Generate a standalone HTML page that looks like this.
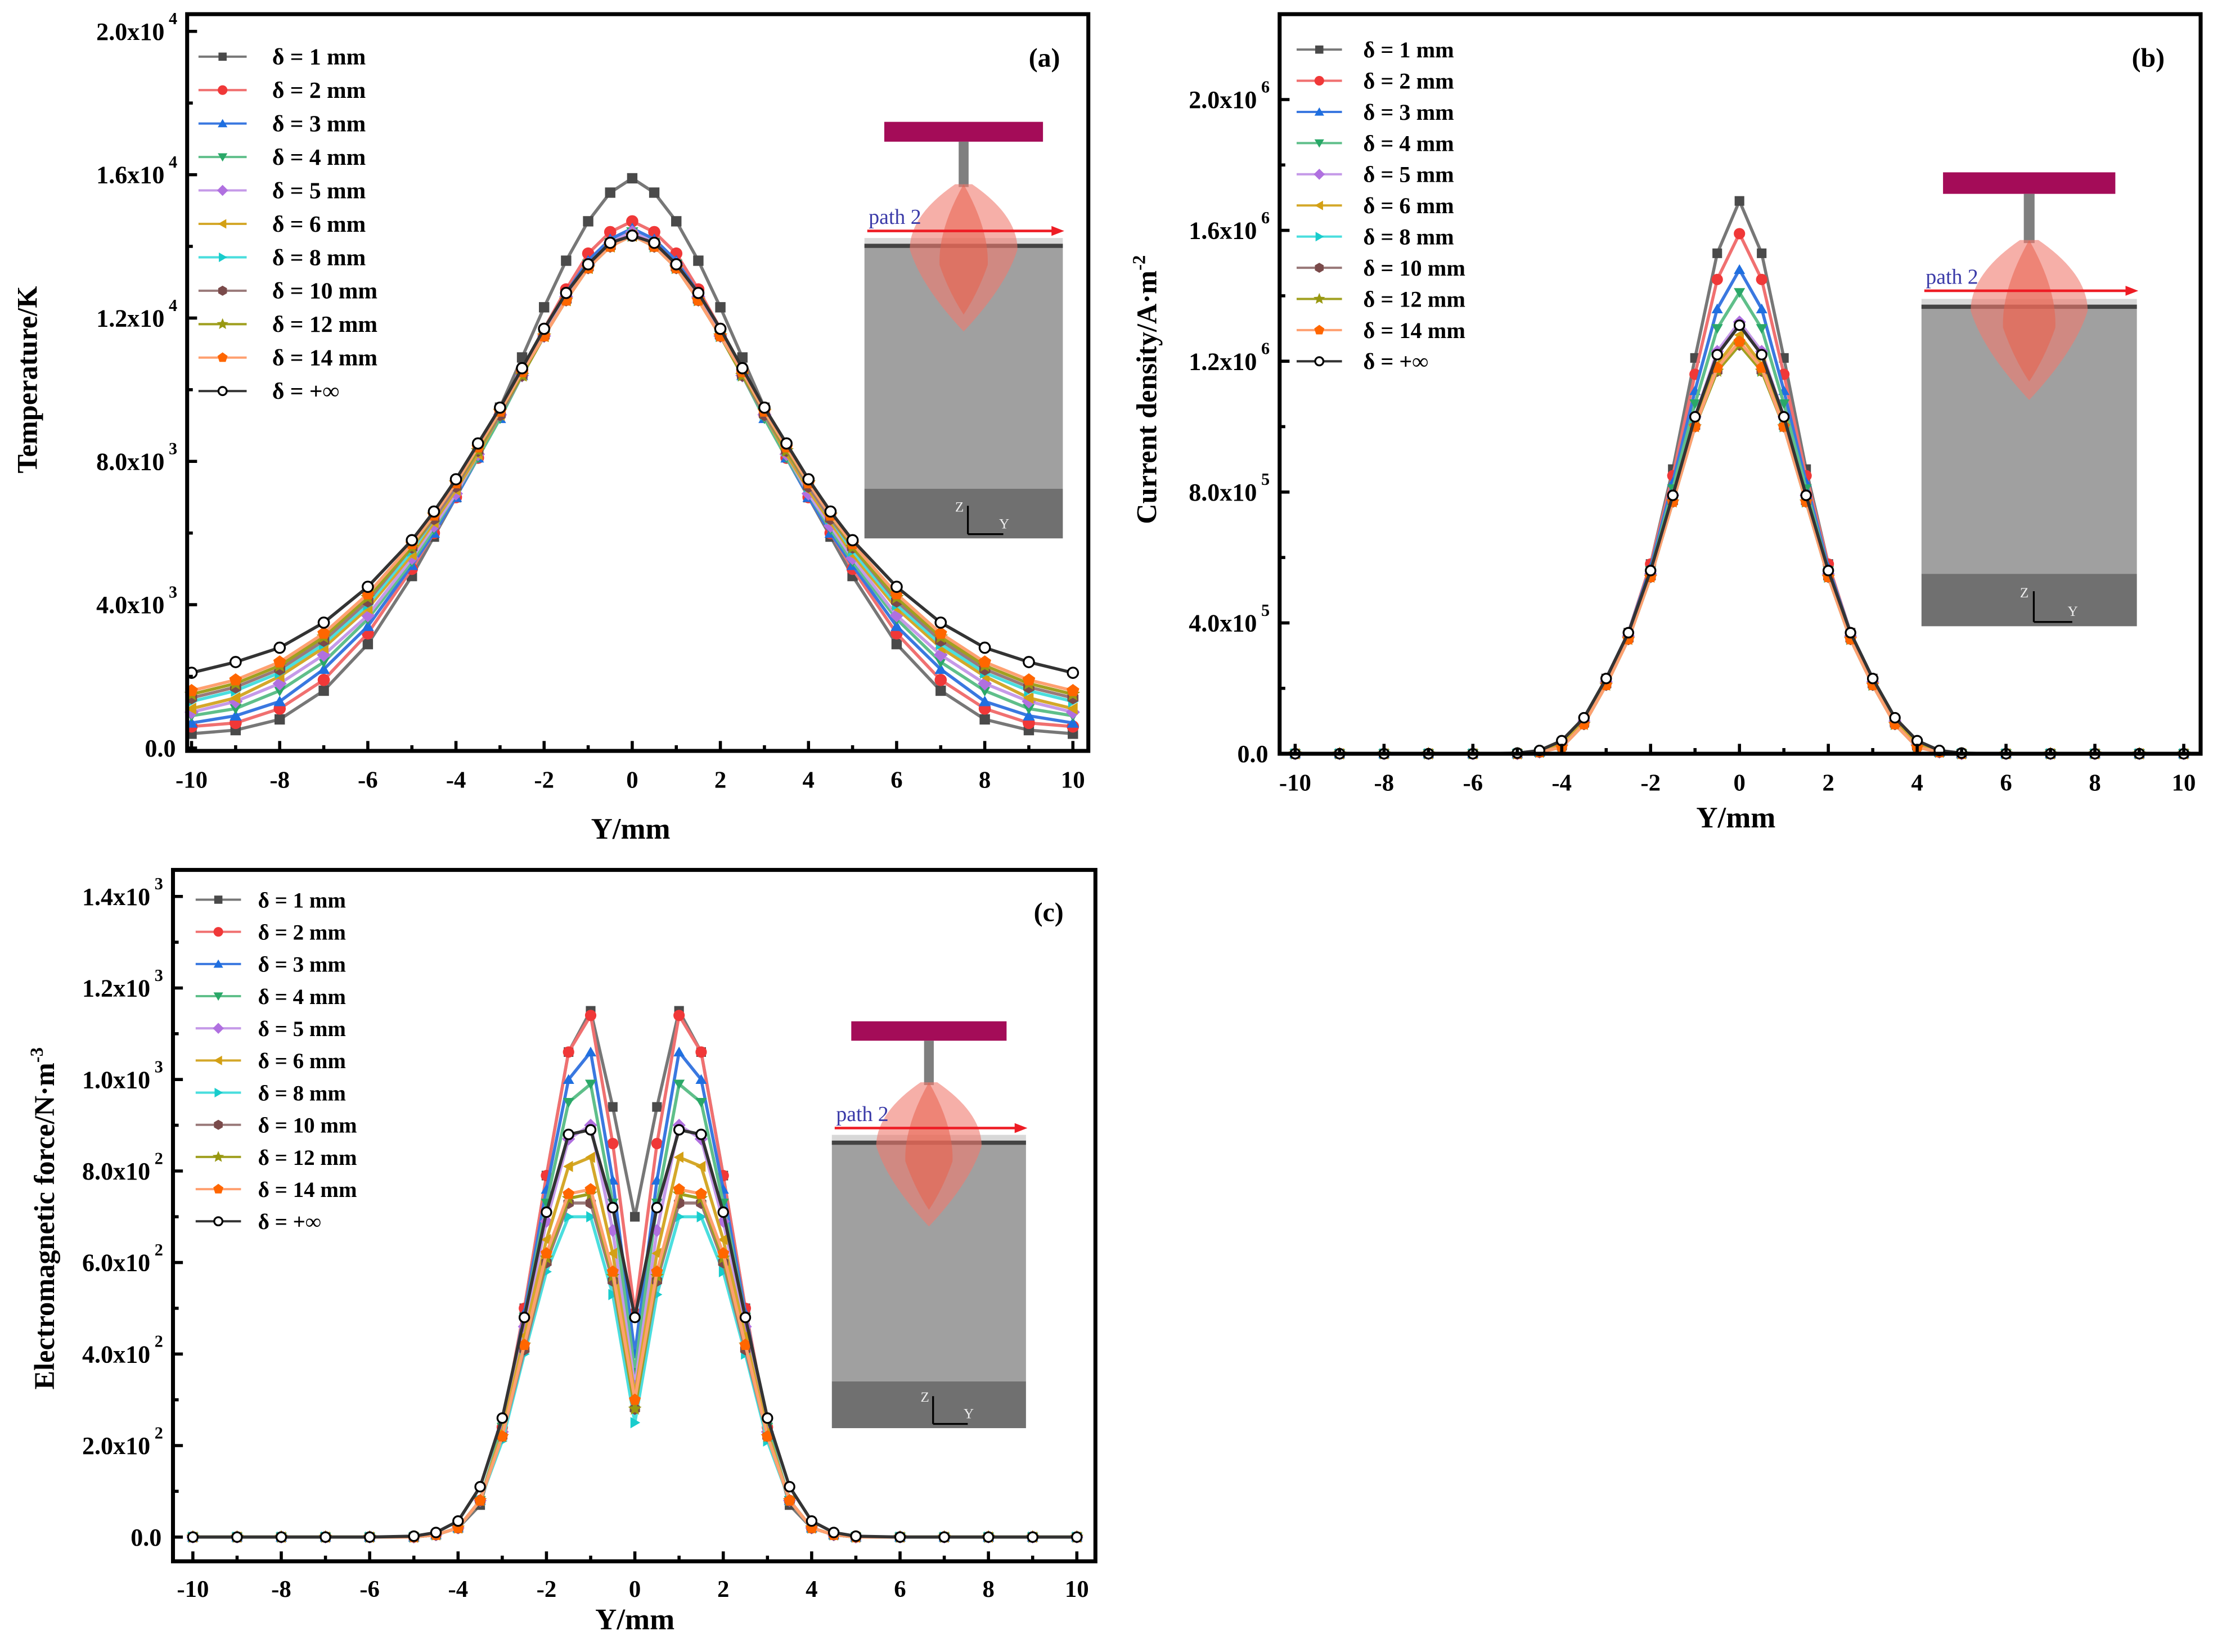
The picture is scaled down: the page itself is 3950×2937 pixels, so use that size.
<!DOCTYPE html>
<html><head><meta charset="utf-8">
<style>
html,body{margin:0;padding:0;background:#fff;}
svg{display:block;}
text{font-family:"Liberation Serif",serif;}
</style></head>
<body>
<svg id="fig" xmlns="http://www.w3.org/2000/svg" width="3950" height="2937" viewBox="0 0 1568 1166">
<rect x="0" y="0" width="1568" height="1166" fill="#fff"/>
</svg>
<script>
// ---------- data ----------
const categories = [-10,-9,-8,-7,-6,-5,-4.5,-4,-3.5,-3,-2.5,-2,-1.5,-1,-0.5,0,0.5,1,1.5,2,2.5,3,3.5,4,4.5,5,6,7,8,9,10];
const seriesLabels = ["δ = 1 mm","δ = 2 mm","δ = 3 mm","δ = 4 mm","δ = 5 mm","δ = 6 mm","δ = 8 mm","δ = 10 mm","δ = 12 mm","δ = 14 mm","δ = +∞"];
// Panel (a) Temperature, units 1e3 K
const tempD1 =  [0.4,0.5,0.8,1.6,2.9,4.8,5.9,7.0,8.2,9.5,10.9,12.3,13.6,14.7,15.5,15.9,15.5,14.7,13.6,12.3,10.9,9.5,8.2,7.0,5.9,4.8,2.9,1.6,0.8,0.5,0.4];
const tempD2 =  [0.6,0.7,1.1,1.9,3.2,5.0,6.0,7.0,8.1,9.3,10.5,11.7,12.8,13.8,14.4,14.7,14.4,13.8,12.8,11.7,10.5,9.3,8.1,7.0,6.0,5.0,3.2,1.9,1.1,0.7,0.6];
const tempD3 =  [0.7,0.9,1.3,2.2,3.4,5.1,6.0,7.0,8.1,9.2,10.4,11.6,12.7,13.6,14.2,14.5,14.2,13.6,12.7,11.6,10.4,9.2,8.1,7.0,6.0,5.1,3.4,2.2,1.3,0.9,0.7];
const tempD4 =  [0.9,1.1,1.6,2.4,3.6,5.2,6.1,7.1,8.1,9.2,10.4,11.5,12.6,13.5,14.1,14.4,14.1,13.5,12.6,11.5,10.4,9.2,8.1,7.1,6.1,5.2,3.6,2.4,1.6,1.1,0.9];
const tempD5 =  [1.0,1.3,1.8,2.6,3.7,5.3,6.2,7.1,8.2,9.3,10.4,11.5,12.6,13.5,14.1,14.4,14.1,13.5,12.6,11.5,10.4,9.3,8.2,7.1,6.2,5.3,3.7,2.6,1.8,1.3,1.0];
const tempD6 =  [1.1,1.4,2.0,2.8,3.9,5.4,6.3,7.2,8.2,9.3,10.4,11.5,12.5,13.4,14.0,14.3,14.0,13.4,12.5,11.5,10.4,9.3,8.2,7.2,6.3,5.4,3.9,2.8,2.0,1.4,1.1];
const tempD8 =  [1.3,1.6,2.1,2.9,4.0,5.5,6.4,7.3,8.3,9.3,10.4,11.5,12.5,13.4,14.0,14.3,14.0,13.4,12.5,11.5,10.4,9.3,8.3,7.3,6.4,5.5,4.0,2.9,2.1,1.6,1.3];
const tempD10 = [1.4,1.7,2.2,3.0,4.1,5.6,6.4,7.3,8.3,9.3,10.4,11.5,12.5,13.4,14.0,14.3,14.0,13.4,12.5,11.5,10.4,9.3,8.3,7.3,6.4,5.6,4.1,3.0,2.2,1.7,1.4];
const tempD12 = [1.5,1.8,2.3,3.1,4.2,5.6,6.5,7.4,8.3,9.4,10.4,11.5,12.5,13.4,14.0,14.3,14.0,13.4,12.5,11.5,10.4,9.4,8.3,7.4,6.5,5.6,4.2,3.1,2.3,1.8,1.5];
const tempD14 = [1.6,1.9,2.4,3.2,4.3,5.7,6.5,7.4,8.4,9.4,10.5,11.5,12.5,13.4,14.0,14.3,14.0,13.4,12.5,11.5,10.5,9.4,8.4,7.4,6.5,5.7,4.3,3.2,2.4,1.9,1.6];
const tempInf = [2.1,2.4,2.8,3.5,4.5,5.8,6.6,7.5,8.5,9.5,10.6,11.7,12.7,13.5,14.1,14.3,14.1,13.5,12.7,11.7,10.6,9.5,8.5,7.5,6.6,5.8,4.5,3.5,2.8,2.4,2.1];
// Panel (b) Current density, units 1e5 A/m2
const curD1 =  [0,0,0,0,0,0,0.05,0.3,1.0,2.3,3.7,5.8,8.7,12.1,15.3,16.9,15.3,12.1,8.7,5.8,3.7,2.3,1.0,0.3,0.05,0,0,0,0,0,0];
const curD2 =  [0,0,0,0,0,0,0.05,0.3,1.0,2.3,3.7,5.8,8.5,11.6,14.5,15.9,14.5,11.6,8.5,5.8,3.7,2.3,1.0,0.3,0.05,0,0,0,0,0,0];
const curD3 =  [0,0,0,0,0,0,0.05,0.3,1.0,2.3,3.7,5.7,8.3,11.1,13.6,14.8,13.6,11.1,8.3,5.7,3.7,2.3,1.0,0.3,0.05,0,0,0,0,0,0];
const curD4 =  [0,0,0,0,0,0,0.05,0.3,1.0,2.2,3.6,5.6,8.1,10.7,13.0,14.1,13.0,10.7,8.1,5.6,3.6,2.2,1.0,0.3,0.05,0,0,0,0,0,0];
const curD5 =  [0,0,0,0,0,0,0.05,0.3,1.0,2.2,3.6,5.5,7.9,10.3,12.3,13.2,12.3,10.3,7.9,5.5,3.6,2.2,1.0,0.3,0.05,0,0,0,0,0,0];
const curD6 =  [0,0,0,0,0,0,0.05,0.3,1.0,2.2,3.6,5.5,7.8,10.1,11.9,12.8,11.9,10.1,7.8,5.5,3.6,2.2,1.0,0.3,0.05,0,0,0,0,0,0];
const curD8 =  [0,0,0,0,0,0,0.05,0.2,0.9,2.1,3.5,5.4,7.7,10.0,11.7,12.5,11.7,10.0,7.7,5.4,3.5,2.1,0.9,0.2,0.05,0,0,0,0,0,0];
const curD10 = [0,0,0,0,0,0,0.05,0.2,0.9,2.1,3.5,5.4,7.7,10.0,11.7,12.5,11.7,10.0,7.7,5.4,3.5,2.1,0.9,0.2,0.05,0,0,0,0,0,0];
const curD12 = [0,0,0,0,0,0,0.05,0.2,0.9,2.1,3.5,5.4,7.7,10.0,11.7,12.5,11.7,10.0,7.7,5.4,3.5,2.1,0.9,0.2,0.05,0,0,0,0,0,0];
const curD14 = [0,0,0,0,0,0,0.05,0.2,0.9,2.1,3.5,5.4,7.7,10.0,11.8,12.6,11.8,10.0,7.7,5.4,3.5,2.1,0.9,0.2,0.05,0,0,0,0,0,0];
const curInf = [0,0,0,0,0,0.02,0.1,0.4,1.1,2.3,3.7,5.6,7.9,10.3,12.2,13.1,12.2,10.3,7.9,5.6,3.7,2.3,1.1,0.4,0.1,0.02,0,0,0,0,0];
// Panel (c) Electromagnetic force, units 1e2 N/m3
const emfD1 =  [0,0,0,0,0,0,0.05,0.2,0.7,2.4,5.0,7.9,10.6,11.5,9.4,7.0,9.4,11.5,10.6,7.9,5.0,2.4,0.7,0.2,0.05,0,0,0,0,0,0];
const emfD2 =  [0,0,0,0,0,0,0.05,0.2,0.8,2.4,5.0,7.9,10.6,11.4,8.6,4.9,8.6,11.4,10.6,7.9,5.0,2.4,0.8,0.2,0.05,0,0,0,0,0,0];
const emfD3 =  [0,0,0,0,0,0,0.05,0.2,0.8,2.4,4.9,7.6,10.0,10.6,7.8,4.0,7.8,10.6,10.0,7.6,4.9,2.4,0.8,0.2,0.05,0,0,0,0,0,0];
const emfD4 =  [0,0,0,0,0,0,0.05,0.2,0.8,2.4,4.8,7.3,9.5,9.9,7.3,3.6,7.3,9.9,9.5,7.3,4.8,2.4,0.8,0.2,0.05,0,0,0,0,0,0];
const emfD5 =  [0,0,0,0,0,0,0.05,0.2,0.8,2.3,4.6,6.9,8.7,9.0,6.7,3.3,6.7,9.0,8.7,6.9,4.6,2.3,0.8,0.2,0.05,0,0,0,0,0,0];
const emfD6 =  [0,0,0,0,0,0,0.05,0.2,0.8,2.3,4.4,6.5,8.1,8.3,6.2,3.1,6.2,8.3,8.1,6.5,4.4,2.3,0.8,0.2,0.05,0,0,0,0,0,0];
const emfD8 =  [0,0,0,0,0,0,0.05,0.2,0.8,2.1,4.0,5.8,7.0,7.0,5.3,2.5,5.3,7.0,7.0,5.8,4.0,2.1,0.8,0.2,0.05,0,0,0,0,0,0];
const emfD10 = [0,0,0,0,0,0,0.05,0.2,0.8,2.2,4.1,6.0,7.3,7.3,5.6,2.8,5.6,7.3,7.3,6.0,4.1,2.2,0.8,0.2,0.05,0,0,0,0,0,0];
const emfD12 = [0,0,0,0,0,0,0.05,0.2,0.8,2.2,4.2,6.1,7.4,7.5,5.7,2.8,5.7,7.5,7.4,6.1,4.2,2.2,0.8,0.2,0.05,0,0,0,0,0,0];
const emfD14 = [0,0,0,0,0,0,0.05,0.2,0.8,2.2,4.2,6.2,7.5,7.6,5.8,3.0,5.8,7.6,7.5,6.2,4.2,2.2,0.8,0.2,0.05,0,0,0,0,0,0];
const emfInf = [0,0,0,0,0,0.02,0.1,0.35,1.1,2.6,4.8,7.1,8.8,8.9,7.2,4.8,7.2,8.9,8.8,7.1,4.8,2.6,1.1,0.35,0.1,0.02,0,0,0,0,0];
// tick labels
const xTicks = [-10,-8,-6,-4,-2,0,2,4,6,8,10];
const tempTicks = [0,4,8,12,16,20];
const tempTickLabels = [["0.0",""],["4.0x10","3"],["8.0x10","3"],["1.2x10","4"],["1.6x10","4"],["2.0x10","4"]];
const curTicks = [0,4,8,12,16,20];
const curTickLabels = [["0.0",""],["4.0x10","5"],["8.0x10","5"],["1.2x10","6"],["1.6x10","6"],["2.0x10","6"]];
const emfTicks = [0,2,4,6,8,10,12,14];
const emfTickLabels = [["0.0",""],["2.0x10","2"],["4.0x10","2"],["6.0x10","2"],["8.0x10","2"],["1.0x10","3"],["1.2x10","3"],["1.4x10","3"]];

// ---------- styling ----------
const NS = "http://www.w3.org/2000/svg";
const svg = document.getElementById('fig');
const markerColors = ["#4a4a4a","#f03838","#1f6fe0","#2aa868","#b070e0","#d4a014","#18cccc","#7a4a4a","#989810","#ff6600","#000"];
const lineColors = ["#777","#f07070","#3a78e0","#5fbf8a","#c59ae8","#d4a82a","#4adede","#9a7a7a","#a0a020","#ffa070","#333"];
const markerShapes = ["square","circle","up","down","diamond","left","right","hex","star","pent","open"];
const slugs = ["d1","d2","d3","d4","d5","d6","d8","d10","d12","d14","dinf"];

function el(tag, attrs, parent){
  const e = document.createElementNS(NS, tag);
  for (const k in attrs) e.setAttribute(k, attrs[k]);
  (parent||svg).appendChild(e);
  return e;
}
function poly(cx,cy,r,n,rot){
  const p=[];
  for(let i=0;i<n;i++){const a=rot+i*2*Math.PI/n;p.push((cx+r*Math.cos(a)).toFixed(2)+","+(cy+r*Math.sin(a)).toFixed(2));}
  return p.join(" ");
}
function starPts(cx,cy,r){
  const p=[];
  for(let i=0;i<10;i++){const a=-Math.PI/2+i*Math.PI/5;const rr=i%2?r*0.45:r;p.push((cx+rr*Math.cos(a)).toFixed(2)+","+(cy+rr*Math.sin(a)).toFixed(2));}
  return p.join(" ");
}
function drawMarker(g, shape, cx, cy, s, color){
  let m;
  if(shape==="square") m = el('rect',{x:cx-s*0.85,y:cy-s*0.85,width:s*1.7,height:s*1.7,fill:color},g);
  else if(shape==="circle") m = el('circle',{cx:cx,cy:cy,r:s,fill:color},g);
  else if(shape==="up") m = el('polygon',{points:poly(cx,cy+s*0.2,s*1.15,3,-Math.PI/2),fill:color},g);
  else if(shape==="down") m = el('polygon',{points:poly(cx,cy-s*0.2,s*1.15,3,Math.PI/2),fill:color},g);
  else if(shape==="diamond") m = el('polygon',{points:poly(cx,cy,s*1.15,4,0),fill:color},g);
  else if(shape==="left") m = el('polygon',{points:poly(cx+s*0.2,cy,s*1.15,3,Math.PI),fill:color},g);
  else if(shape==="right") m = el('polygon',{points:poly(cx-s*0.2,cy,s*1.15,3,0),fill:color},g);
  else if(shape==="hex") m = el('polygon',{points:poly(cx,cy,s*1.05,6,Math.PI/6),fill:color},g);
  else if(shape==="star") m = el('polygon',{points:starPts(cx,cy,s*1.25),fill:color},g);
  else if(shape==="pent") m = el('polygon',{points:poly(cx,cy,s*1.1,5,-Math.PI/2),fill:color},g);
  else m = el('circle',{cx:cx,cy:cy,r:s*0.85,fill:"#fff",stroke:"#000","stroke-width":1.3},g);
  return m;
}

function drawPanel(cfg){
  const P = el('g',{});
  
  
  const {left,right,top,bottom,xmin,xmax,ymin,ymax} = cfg;
  const sx = v => left + (v - xmin)/(xmax - xmin)*(right-left);
  const sy = v => bottom - (v - ymin)/(ymax - ymin)*(bottom-top);

  drawInset(P, cfg.inset);

  cfg.series.forEach((vals, si) => {
    const g = el('g',{},P);
    
    
    const pts = categories.map((c,i)=> sx(c).toFixed(2)+","+sy(vals[i]).toFixed(2)).join(" ");
    const ln = el('polyline',{points:pts,fill:"none",stroke:lineColors[si],"stroke-width":2.2,"stroke-linejoin":"round"},g);
    
    
    categories.forEach((c,i)=>{
      const mk = drawMarker(g, markerShapes[si], sx(c), sy(vals[i]), cfg.ms, markerColors[si]);
      
      
    });
  });

  const fr = el('rect',{x:left,y:top,width:right-left,height:bottom-top,fill:"none",stroke:"#000","stroke-width":2.8},P);
  
  

  const xg = el('g',{},P);
  
  
  for(let v=-10; v<=10; v++){
    const major = (v%2===0);
    el('line',{x1:sx(v),x2:sx(v),y1:bottom,y2:bottom-(major?7:4),stroke:"#000","stroke-width":2.2},xg);
  }
  xTicks.forEach(v=>{
    const t = el('text',{x:sx(v),y:bottom+cfg.xlabOff,"text-anchor":"middle","font-size":17,"font-weight":"bold"},xg);
    t.textContent = String(v);
    
    
  });
  const yg = el('g',{},P);
  
  
  cfg.yTicks.forEach((v,i)=>{
    el('line',{x1:left,x2:left+7,y1:sy(v),y2:sy(v),stroke:"#000","stroke-width":2.2},yg);
    if(i < cfg.yTicks.length-1){
      const mid=(v+cfg.yTicks[i+1])/2;
      el('line',{x1:left,x2:left+4,y1:sy(mid),y2:sy(mid),stroke:"#000","stroke-width":2.2},yg);
    }
    const lab = cfg.yLabels[i];
    const t = el('text',{x:left-8-(lab[1]?8:0),y:sy(v)+6,"text-anchor":"end","font-size":17.5,"font-weight":"bold"},yg);
    t.textContent = lab[0];
    
    
    if(lab[1]){
      const sp = el('text',{x:left-7,y:sy(v)-5,"text-anchor":"end","font-size":12,"font-weight":"bold"},yg);
      sp.textContent = lab[1];
      
      
    }
  });
  const xt = el('text',{x:cfg.xTitle[0],y:cfg.xTitle[1],"text-anchor":"middle","font-size":21,"font-weight":"bold"},P);
  xt.textContent = "Y/mm";
  
  
  const yt = el('text',{x:0,y:0,"text-anchor":"middle","font-size":20,"font-weight":"bold",transform:`translate(${cfg.yTitle[0]},${cfg.yTitle[1]}) rotate(-90)`},P);
  
  
  yt.appendChild(document.createTextNode(cfg.yTitleText));
  if(cfg.yTitleSup){
    const ts = el('tspan',{"font-size":13,dy:-8},yt);
    ts.textContent = cfg.yTitleSup;
  }
  const tag = el('text',{x:cfg.tag[0],y:cfg.tag[1],"text-anchor":"middle","font-size":19,"font-weight":"bold"},P);
  tag.textContent = cfg.tagText;
  
  

  const lg = el('g',{},P);
  
  
  const L = cfg.legend;
  seriesLabels.forEach((lab, si)=>{
    const y = L.y0 + si*L.dy;
    const eg = el('g',{},lg);
    
    
    el('line',{x1:L.x0,x2:L.x0+L.w,y1:y,y2:y,stroke:lineColors[si],"stroke-width":1.6},eg);
    drawMarker(eg, markerShapes[si], L.x0+L.w/2, y, 3.4, markerColors[si]);
    const t = el('text',{x:L.tx,y:y+5.5,"font-size":L.fs,"font-weight":"bold"},eg);
    t.textContent = lab;
  });
}

function drawInset(P, I){
  const g = el('g',{},P);
  
  
  const {x0,W,T,Hl,Hd} = I;
  const s = W/140, cx = x0 + W/2;
  const bar = el('rect',{x:cx-56*s,y:T-86*s,width:112*s,height:14*s,fill:"#a40c58"},g);
  
  
  el('rect',{x:cx-3.5*s,y:T-72*s,width:7*s,height:32*s,fill:"#7f7f7f"},g);
  const blk = el('rect',{x:x0,y:T,width:W,height:Hl,fill:"#a0a0a0"},g);
  
  
  el('rect',{x:x0,y:T+Hl,width:W,height:Hd,fill:"#707070"},g);
  el('rect',{x:x0,y:T,width:W,height:3,fill:"#444"},g);
  el('rect',{x:x0,y:T-4,width:W,height:4,fill:"#d8d8d8"},g);
  el('path',{d:`M${cx-6*s},${T-42*s} L${cx+6*s},${T-42*s} Q${cx+38*s},${T-20*s} ${cx+38*s},${T+4*s} Q${cx+30*s},${T+30*s} ${cx},${T+62*s} Q${cx-30*s},${T+30*s} ${cx-38*s},${T+4*s} Q${cx-38*s},${T-20*s} ${cx-6*s},${T-42*s} Z`,fill:"#f07a6e","fill-opacity":0.6},g);
  el('path',{d:`M${cx},${T-42*s} Q${cx+18*s},${T-10*s} ${cx+17*s},${T+15*s} Q${cx+10*s},${T+35*s} ${cx},${T+50*s} Q${cx-10*s},${T+35*s} ${cx-17*s},${T+15*s} Q${cx-18*s},${T-10*s} ${cx},${T-42*s} Z`,fill:"#e8604c","fill-opacity":0.55},g);
  const ay = T - 9*s;
  const ar = el('line',{x1:x0+2,x2:x0+W-4,y1:ay,y2:ay,stroke:"#ee1c24","stroke-width":1.8},g);
  
  
  el('polygon',{points:`${x0+W+1},${ay} ${x0+W-8},${ay-3.5} ${x0+W-8},${ay+3.5}`,fill:"#ee1c24"},g);
  const pt = el('text',{x:x0+3,y:ay-5,"font-size":15,fill:"#3a3aa8"},g);
  pt.textContent = "path 2";
  
  
  const ox = cx+3*s, oy = T+Hl+Hd-3;
  el('line',{x1:ox,x2:ox,y1:oy,y2:oy-20*s,stroke:"#000","stroke-width":1.3},g);
  el('line',{x1:ox,x2:ox+25*s,y1:oy,y2:oy,stroke:"#000","stroke-width":1.3},g);
  const zt = el('text',{x:ox-9*s,y:oy-16*s,"font-size":10,fill:"#eee","font-family":"Liberation Sans, sans-serif"},g);
  zt.textContent = "Z";
  const yt = el('text',{x:ox+22*s,y:oy-4*s,"font-size":10,fill:"#eee","font-family":"Liberation Sans, sans-serif"},g);
  yt.textContent = "Y";
}

drawPanel({
  name:"panel-a-temperature", left:132, right:768, top:10, bottom:530,
  xmin:-10.1, xmax:10.35, ymin:-0.08, ymax:20.48,
  series:[tempD1,tempD2,tempD3,tempD4,tempD5,tempD6,tempD8,tempD10,tempD12,tempD14,tempInf],
  yTicks:tempTicks, yLabels:tempTickLabels, ms:4.3, xlabOff:26,
  xTitle:[445,592], yTitle:[26,268], yTitleText:"Temperature/K",
  tag:[737,47], tagText:"(a)",
  legend:{x0:140,w:34,tx:192,y0:40,dy:23.6,fs:16.5},
  inset:{x0:610,W:140,T:172,Hl:173,Hd:35}
});
drawPanel({
  name:"panel-b-current-density", left:903, right:1553, top:10, bottom:532,
  xmin:-10.35, xmax:10.38, ymin:-0.0, ymax:22.61,
  series:[curD1,curD2,curD3,curD4,curD5,curD6,curD8,curD10,curD12,curD14,curInf],
  yTicks:curTicks, yLabels:curTickLabels, ms:4.0, xlabOff:26,
  xTitle:[1225,584], yTitle:[816,275], yTitleText:"Current density/A·m", yTitleSup:"-2",
  tag:[1516,47], tagText:"(b)",
  legend:{x0:915,w:32,tx:962,y0:35,dy:22,fs:16},
  inset:{x0:1356,W:152,T:215,Hl:190,Hd:37}
});
drawPanel({
  name:"panel-c-electromagnetic-force", left:122, right:773, top:614, bottom:1102,
  xmin:-10.45, xmax:10.42, ymin:-0.53, ymax:14.58,
  series:[emfD1,emfD2,emfD3,emfD4,emfD5,emfD6,emfD8,emfD10,emfD12,emfD14,emfInf],
  yTicks:emfTicks, yLabels:emfTickLabels, ms:4.0, xlabOff:25,
  xTitle:[448,1150], yTitle:[38,860], yTitleText:"Electromagnetic force/N·m", yTitleSup:"-3",
  tag:[740,650], tagText:"(c)",
  legend:{x0:138,w:32,tx:182,y0:635,dy:22.7,fs:15.5},
  inset:{x0:587,W:137,T:805,Hl:170,Hd:33}
});
</script>
</body></html>
